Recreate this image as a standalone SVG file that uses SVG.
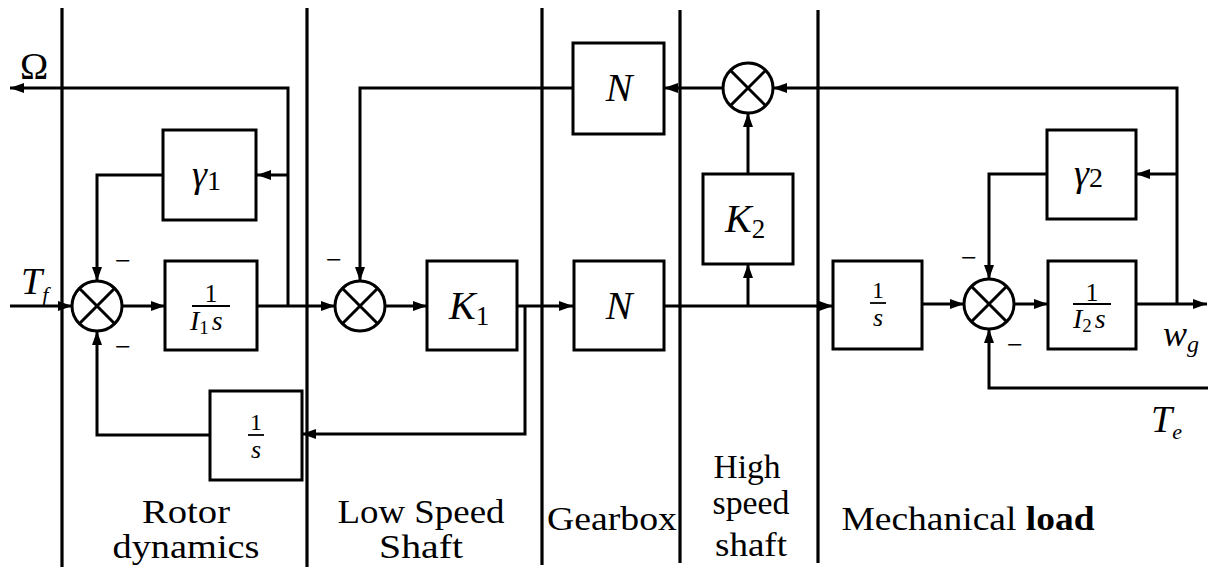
<svg xmlns="http://www.w3.org/2000/svg" width="1208" height="573" viewBox="0 0 1208 573">
<style>
.ln{stroke:#000;stroke-width:3;fill:none}
.dv{stroke:#000;stroke-width:3.2;fill:none}
.bx{fill:#fff;stroke:#000;stroke-width:3}
.sm{fill:#fff;stroke:#000;stroke-width:3}
.m{font-style:italic;fill:#000}
.u{fill:#000}
.lbl{font-size:34px;text-anchor:middle;fill:#000}
.c{text-anchor:middle}
</style>
<defs>
<marker id="ah" viewBox="0 0 14 10" refX="14" refY="5" markerWidth="14" markerHeight="10" markerUnits="userSpaceOnUse" orient="auto">
<path d="M0,0 L14,5 L0,10 z" fill="#000"/>
</marker>
<g id="sumshape">
<circle cx="0" cy="0" r="25" class="sm"/>
<path d="M-17.7,-17.7 L17.7,17.7 M-17.7,17.7 L17.7,-17.7" class="ln"/>
</g>
</defs>
<rect width="1208" height="573" fill="#fff"/>

<g id="dividers">
<line x1="62" y1="8" x2="62" y2="567" class="dv"/>
<line x1="307" y1="8" x2="307" y2="567" class="dv"/>
<line x1="542" y1="8" x2="542" y2="565" class="dv"/>
<line x1="680" y1="10" x2="680" y2="563" class="dv"/>
<line x1="818" y1="10" x2="818" y2="563" class="dv"/>
</g>

<g id="connectors" marker-end="url(#ah)">
<path d="M10,306 H72" class="ln"/>
<path d="M122,306 H165" class="ln"/>
<path d="M257,306 H335" class="ln"/>
<path d="M288,306 V88 H10" class="ln"/>
<path d="M288,175 H257" class="ln"/>
<path d="M163,175 H97 V281" class="ln"/>
<path d="M210,435 H97 V331" class="ln"/>
<path d="M573,88 H360 V281" class="ln"/>
<path d="M385,306 H427" class="ln"/>
<path d="M517,306 H573" class="ln"/>
<path d="M525,306 V434 H302" class="ln"/>
<path d="M664,306 H833" class="ln"/>
<path d="M748,306 V264" class="ln"/>
<path d="M748,174 V113" class="ln"/>
<path d="M723,88 H664" class="ln"/>
<path d="M1177,304 V88 H773" class="ln"/>
<path d="M1177,174 H1136" class="ln"/>
<path d="M1047,174 H989 V279" class="ln"/>
<path d="M922,304 H964" class="ln"/>
<path d="M1014,304 H1048" class="ln"/>
<path d="M1136,304 H1207" class="ln"/>
<path d="M1208,388 H989 V329" class="ln"/>
</g>

<g id="sum1"><use href="#sumshape" x="97" y="306"/></g>
<g id="sum2"><use href="#sumshape" x="360" y="306"/></g>
<g id="sum3"><use href="#sumshape" x="748" y="88"/></g>
<g id="sum4"><use href="#sumshape" x="989" y="304"/></g>

<g font-family="Liberation Serif, Times New Roman, DejaVu Serif, serif">
<g id="gamma1">
<rect x="163" y="130" width="93" height="90" class="bx"/>
<text x="192" y="187" class="m" font-size="38">γ<tspan font-style="normal" font-size="28" dy="3">1</tspan></text>
</g>
<g id="invI1s">
<rect x="165" y="261" width="92" height="89" class="bx"/>
<text x="211" y="302" class="u c" font-size="26">1</text>
<line x1="192" y1="306" x2="230" y2="306" stroke="#000" stroke-width="1.8"/>
<text x="190" y="330" class="m" font-size="28">I<tspan font-style="normal" font-size="19" dy="4">1</tspan><tspan dy="-4" dx="3">s</tspan></text>
</g>
<g id="int1">
<rect x="210" y="391" width="92" height="89" class="bx"/>
<text x="256" y="430" class="u c" font-size="24">1</text>
<line x1="248" y1="435" x2="264" y2="435" stroke="#000" stroke-width="1.8"/>
<text x="256" y="458" class="m c" font-size="26">s</text>
</g>
<g id="K1">
<rect x="427" y="261" width="90" height="89" class="bx"/>
<text x="449" y="319" class="m" font-size="40">K<tspan font-style="normal" font-size="27" dy="6">1</tspan></text>
</g>
<g id="Ntop">
<rect x="573" y="43" width="91" height="91" class="bx"/>
<text x="619" y="101" class="m c" font-size="40">N</text>
</g>
<g id="Nbot">
<rect x="574" y="261" width="90" height="89" class="bx"/>
<text x="619" y="319" class="m c" font-size="40">N</text>
</g>
<g id="K2">
<rect x="703" y="174" width="90" height="90" class="bx"/>
<text x="725" y="232" class="m" font-size="40">K<tspan font-style="normal" font-size="27" dy="6">2</tspan></text>
</g>
<g id="int2">
<rect x="833" y="261" width="89" height="88" class="bx"/>
<text x="878" y="298" class="u c" font-size="24">1</text>
<line x1="870" y1="303" x2="886" y2="303" stroke="#000" stroke-width="1.8"/>
<text x="878" y="326" class="m c" font-size="26">s</text>
</g>
<g id="gamma2">
<rect x="1047" y="130" width="89" height="89" class="bx"/>
<text x="1074" y="186" class="m" font-size="38">γ<tspan font-style="normal" font-size="28" dy="1">2</tspan></text>
</g>
<g id="invI2s">
<rect x="1048" y="261" width="88" height="88" class="bx"/>
<text x="1092" y="301" class="u c" font-size="26">1</text>
<line x1="1073" y1="304" x2="1111" y2="304" stroke="#000" stroke-width="1.8"/>
<text x="1073" y="328" class="m" font-size="28">I<tspan font-style="normal" font-size="19" dy="4">2</tspan><tspan dy="-4" dx="3">s</tspan></text>
</g>

<g id="signals">
<text x="20" y="79" class="u" font-size="38">Ω</text>
<text x="21" y="294" class="m" font-size="38">T<tspan font-size="22" dy="8" dx="0">f</tspan></text>
<text x="1163" y="346" class="m" font-size="36">w<tspan font-size="24" dy="6">g</tspan></text>
<text x="1151" y="432" class="m" font-size="38">T<tspan font-size="22" dy="7" dx="0">e</tspan></text>
</g>

<g id="minus" class="u" font-size="28">
<text x="115" y="270">−</text>
<text x="115" y="356">−</text>
<text x="326" y="269">−</text>
<text x="961" y="267">−</text>
<text x="1007" y="354">−</text>
</g>

<g id="labels">
<text x="186" y="523" class="lbl" textLength="88" lengthAdjust="spacingAndGlyphs">Rotor</text>
<text x="186" y="558" class="lbl" textLength="147" lengthAdjust="spacingAndGlyphs">dynamics</text>
<text x="421" y="523" class="lbl" textLength="167" lengthAdjust="spacingAndGlyphs">Low Speed</text>
<text x="421" y="558" class="lbl" textLength="84" lengthAdjust="spacingAndGlyphs">Shaft</text>
<text x="612" y="530" class="lbl" textLength="130" lengthAdjust="spacingAndGlyphs">Gearbox</text>
<text x="747" y="478" class="lbl" textLength="67" lengthAdjust="spacingAndGlyphs">High</text>
<text x="751" y="514" class="lbl" textLength="77" lengthAdjust="spacingAndGlyphs">speed</text>
<text x="751" y="556" class="lbl" textLength="72" lengthAdjust="spacingAndGlyphs">shaft</text>
<text x="968" y="530" class="lbl" textLength="253" lengthAdjust="spacingAndGlyphs">Mechanical <tspan font-weight="bold">load</tspan></text>
</g>
</g>
</svg>
